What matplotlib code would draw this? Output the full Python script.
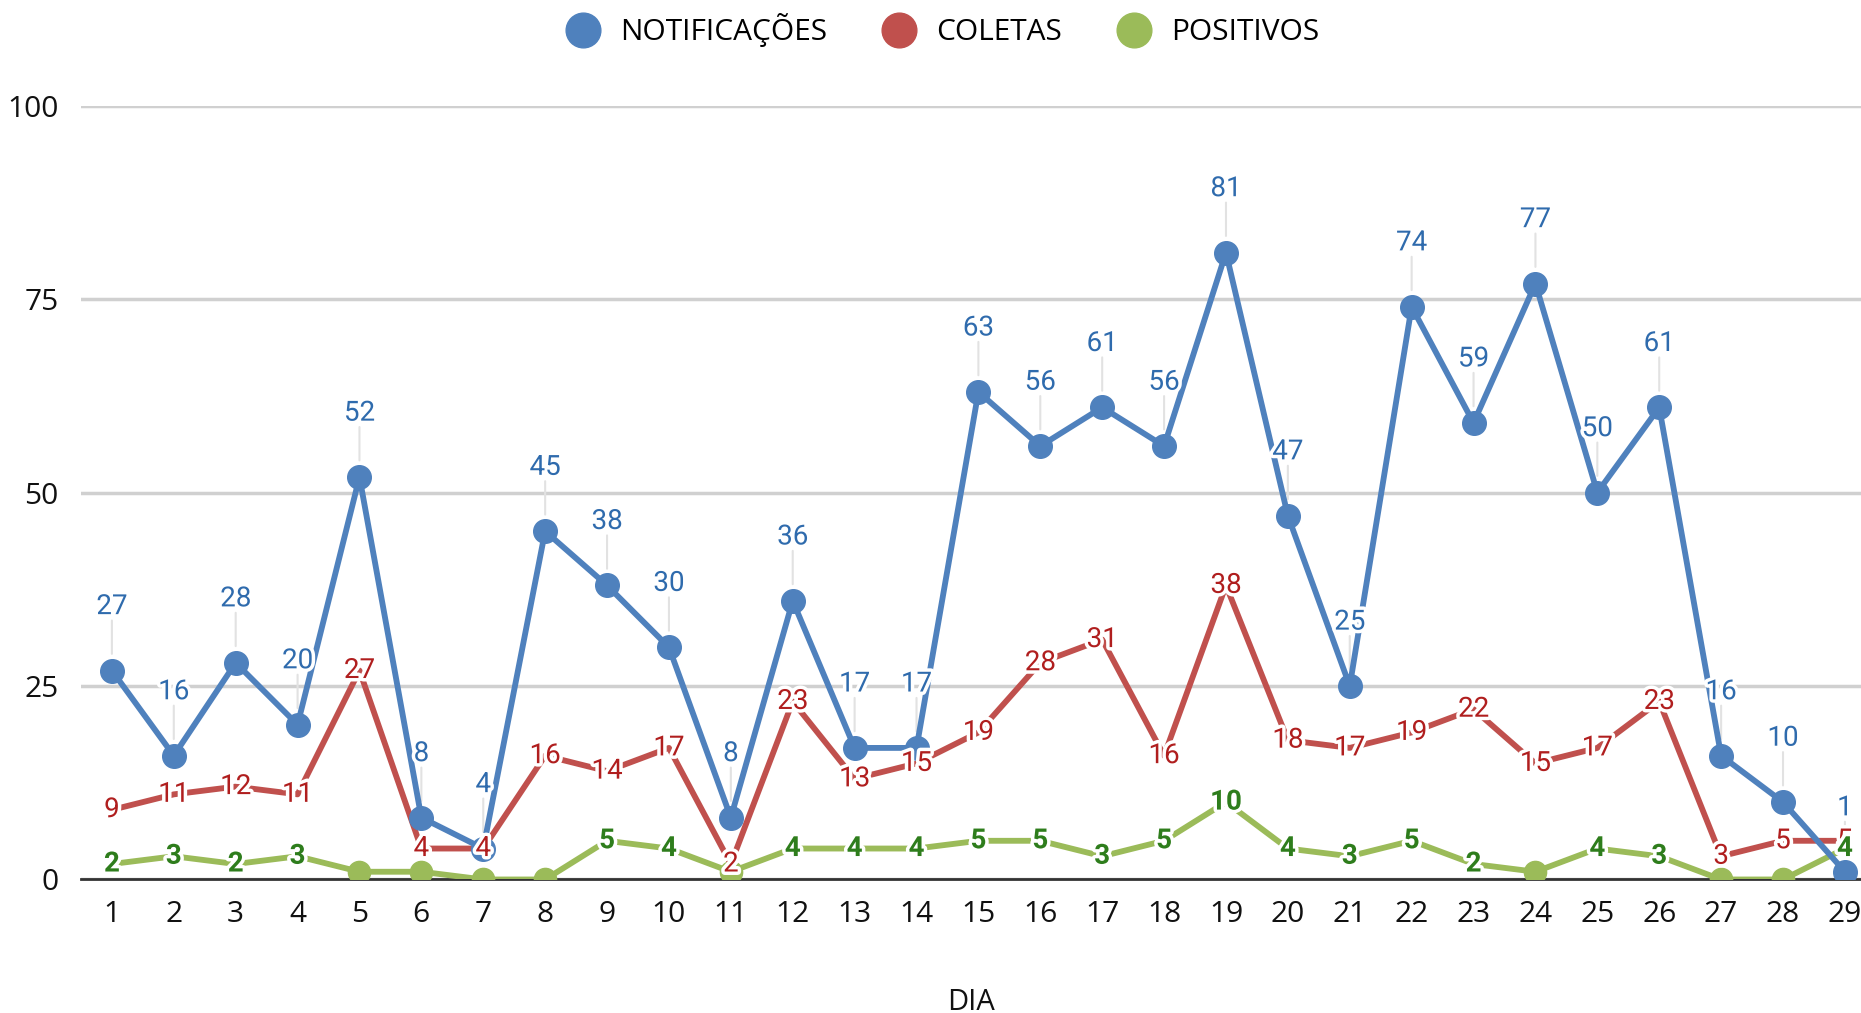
import numpy as np
import matplotlib.pyplot as plt
import matplotlib.patheffects as pe
from matplotlib.lines import Line2D

dias = list(range(1, 30))
notificacoes = [27, 16, 28, 20, 52, 8, 4, 45, 38, 30, 8, 36, 17, 17, 63, 56, 61, 56, 81, 47, 25, 74, 59, 77, 50, 61, 16, 10, 1]
coletas = [9, 11, 12, 11, 27, 4, 4, 16, 14, 17, 2, 23, 13, 15, 19, 28, 31, 16, 38, 18, 17, 19, 22, 15, 17, 23, 3, 5, 5]
positivos = [2, 3, 2, 3, 1, 1, 0, 0, 5, 4, 1, 4, 4, 4, 5, 5, 3, 5, 10, 4, 3, 5, 2, 1, 4, 3, 0, 0, 4]

azul, vermelho, verde = '#4F81BD', '#C0504D', '#9BBB59'
azul_txt, vermelho_txt, verde_txt = '#2F6BAD', '#B01E1E', '#2E7D1C'

plt.rcParams['font.family'] = ['Open Sans', 'DejaVu Sans']

fig = plt.figure(figsize=(18.61, 10.13), dpi=100)
ax = fig.add_axes([0.0435, 0.1318, 0.9565, 0.764])

halo = [pe.withStroke(linewidth=5, foreground='white')]

# linhas
ax.plot(dias, coletas, color=vermelho, lw=4.2, zorder=3, solid_capstyle='round')
pos = np.array(positivos, dtype=float)
ax.plot(dias, pos, color=verde, lw=4.2, zorder=2, solid_capstyle='round')
sem_rotulo = pos < 2
ax.plot(np.array(dias)[sem_rotulo], pos[sem_rotulo], 'o', color=verde, ms=16, zorder=2)
ax.plot(dias, notificacoes, color=azul, lw=4.2, marker='o', ms=17, zorder=4)

# rótulos
for d, v in zip(dias, notificacoes):
    ax.annotate('', xy=(d, v), xytext=(0, 36), textcoords='offset points',
                arrowprops=dict(arrowstyle='-', color='#e2e2e2', lw=1.5,
                                shrinkA=0, shrinkB=12), zorder=1)
    ax.annotate(str(v), xy=(d, v), xytext=(0, 46), textcoords='offset points',
                ha='center', va='center', fontsize=20, color=azul_txt,
                family=['Roboto', 'DejaVu Sans'], path_effects=halo, zorder=6)
for d, v in zip(dias, coletas):
    ax.text(d, v, str(v), ha='center', va='center', fontsize=20, color=vermelho_txt,
            family=['Roboto', 'DejaVu Sans'], path_effects=halo, zorder=7)
for d, v in zip(dias, positivos):
    if v >= 2:
        ax.text(d, v, str(v), ha='center', va='center', fontsize=20, color=verde_txt,
                fontweight='bold', family=['Roboto', 'DejaVu Sans'],
                path_effects=halo, zorder=7)

ax.set_xlim(0.5, 29.26)
ax.set_ylim(0, 100)
ax.set_yticks([0, 25, 50, 75, 100])
ax.set_xticks(dias)
ax.grid(axis='y', color='#d0d0d0', lw=2.5)
ax.set_axisbelow(True)
for s in ['top', 'right', 'left']:
    ax.spines[s].set_visible(False)
ax.spines['bottom'].set_color('#333333')
ax.spines['bottom'].set_linewidth(2)
ax.spines['bottom'].set_zorder(1)
ax.tick_params(axis='both', length=0, labelsize=21.5, colors='#111111')
ax.tick_params(axis='y', pad=16)
ax.tick_params(axis='x', pad=15)
ax.set_xlabel('DIA', fontsize=21, labelpad=42, color='#111111')

handles = [Line2D([], [], ls='', marker='o', ms=25, color=c) for c in (azul, vermelho, verde)]
fig.legend(handles, ['NOTIFICAÇÕES', 'COLETAS', 'POSITIVOS'], loc='center', ncol=3,
           bbox_to_anchor=(0.507, 0.97), frameon=False, fontsize=21.5,
           handletextpad=0.75, columnspacing=1.9, handlelength=1.0)

fig.savefig('out.png', dpi=100)
